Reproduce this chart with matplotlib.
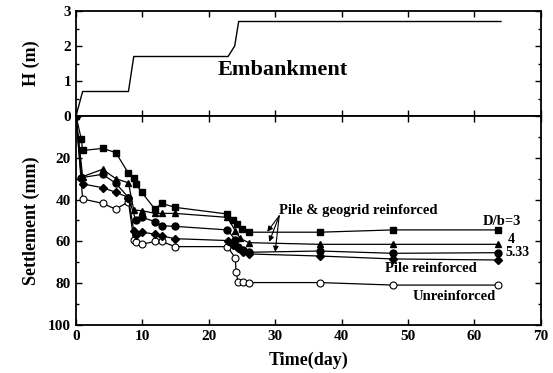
import numpy as np
import matplotlib.pyplot as plt
from matplotlib.ticker import MultipleLocator

plt.rcParams['font.family'] = 'Liberation Serif'
plt.rcParams['font.weight'] = 'bold'

# embankment fill height history
t_fill = [0, 1, 7.9, 8.7, 22.9, 23.9, 24.5, 64]
h_fill = [0, 0.7, 0.7, 1.7, 1.7, 2.0, 2.7, 2.7]

# settlement records (day, mm)
t_db3 = [0, 0.8, 1.0, 4, 6, 7.9, 8.7, 9.0, 9.9, 11.9, 12.9, 14.9, 22.8, 23.7, 24.3, 25.0, 26, 36.7, 47.8, 63.6]
s_db3 = [0, 11, 16.5, 15.5, 17.5, 27.4, 29.8, 32.5, 36.5, 44.6, 41.8, 43.7, 46.9, 49.8, 51.7, 54.2, 55.6, 55.6, 54.5, 54.5]

t_db4 = [0, 1, 4, 6, 7.9, 8.7, 9.9, 11.9, 12.9, 14.9, 22.8, 24.0, 24.7, 26, 36.7, 47.8, 63.6]
s_db4 = [0, 29, 25.5, 30, 32, 45, 45.3, 46.6, 46.6, 46.6, 48.5, 55, 58.5, 60.6, 61.4, 61.4, 61.4]

t_db533 = [0, 0.8, 4, 6, 7.9, 9.0, 9.9, 11.9, 12.9, 14.9, 22.8, 24.0, 24.4, 25.1, 26, 36.7, 47.8, 63.6]
s_db533 = [0, 29.5, 27.9, 32.2, 39, 49.8, 48.5, 50.5, 52.5, 52.8, 54.5, 59.3, 62.5, 64, 65.2, 64.6, 65.7, 65.4]

t_pile = [0, 1, 4, 6, 7.9, 8.7, 9.0, 9.9, 11.9, 12.9, 14.9, 22.9, 23.7, 24.4, 25.1, 26, 36.7, 47.8, 63.6]
s_pile = [0, 32.5, 34.3, 36.5, 39, 54.9, 57, 55.6, 56.5, 57.4, 58.7, 59.6, 61.7, 63.3, 64.9, 66, 67, 68.4, 68.9]

t_unr = [0, 1, 4, 6, 7.9, 8.7, 9.0, 9.9, 11.9, 12.9, 14.9, 22.8, 24.0, 24.1, 24.4, 25.1, 26, 36.7, 47.8, 63.6]
s_unr = [0, 39.7, 41.8, 44.6, 41, 59.3, 60.5, 61.4, 60, 60, 62.5, 62.5, 68, 74.5, 79.3, 79.3, 79.7, 79.7, 80.9, 80.9]

fig = plt.figure(figsize=(5.53, 3.73), dpi=100)
ax1 = fig.add_axes([0.1374, 0.689, 0.8406, 0.2815])
ax2 = fig.add_axes([0.1374, 0.1287, 0.8406, 0.5603])

for ax in (ax1, ax2):
    ax.set_xlim(0, 70)
    ax.xaxis.set_major_locator(MultipleLocator(10))
    ax.tick_params(which='both', direction='in', top=True, right=True, labelsize=11)
    ax.tick_params(which='major', length=4, width=1)
    ax.tick_params(which='minor', length=2.5, width=1)
    for sp in ax.spines.values():
        sp.set_linewidth(1.3)
    for lab in ax.get_xticklabels() + ax.get_yticklabels():
        lab.set_fontweight('bold')

# top: embankment height
ax1.plot(t_fill, h_fill, color='black', lw=1)
ax1.set_ylim(0, 3)
ax1.set_yticks([0, 1, 2, 3])
ax1.yaxis.set_minor_locator(MultipleLocator(0.5))
ax1.tick_params(labelbottom=False)
ax1.set_ylabel('H (m)', fontsize=13, fontweight='bold', labelpad=17)
ax1.text(21.4, 1.31, 'Embankment', fontsize=16, fontweight='bold', va='center')

# bottom: settlement
kw = dict(color='black', lw=0.9, markersize=5)
ax2.plot(t_unr, s_unr, marker='o', markerfacecolor='white', markeredgewidth=0.8, **kw)
ax2.plot(t_pile, s_pile, marker='D', markersize=4.5, color='black', lw=0.9)
ax2.plot(t_db533, s_db533, marker='o', **kw)
ax2.plot(t_db4, s_db4, marker='^', **kw)
ax2.plot(t_db3, s_db3, marker='s', markersize=4.5, color='black', lw=0.9)

ax2.set_ylim(100, 0)
ax2.set_yticks([0, 20, 40, 60, 80, 100])
ax2.set_yticklabels(['', '20', '40', '60', '80', '100'])
ax2.yaxis.set_minor_locator(MultipleLocator(10))
ax2.set_ylabel('Settlement (mm)', fontsize=13, fontweight='bold', labelpad=6)
ax2.set_xlabel('Time(day)', fontsize=13, fontweight='bold', labelpad=6)

ax2.text(30.5, 45.3, 'Pile & geogrid reinforced', fontsize=10.5, fontweight='bold', va='center')
for hx, hy in [(28.8, 55.4), (29.1, 60.2), (30.0, 65.0)]:
    ax2.annotate('', xy=(hx, hy), xytext=(30.6, 47.8),
                 arrowprops=dict(arrowstyle='-|>', color='black', lw=0.8,
                                 mutation_scale=8, shrinkA=0, shrinkB=0))
ax2.text(61.3, 50.5, 'D/b=3', fontsize=10.5, fontweight='bold', va='center')
ax2.text(65.0, 59.3, '4', fontsize=10, fontweight='bold', va='center')
ax2.text(64.6, 65.2, '5.33', fontsize=10, fontweight='bold', va='center')
ax2.text(46.5, 72.8, 'Pile reinforced', fontsize=10.5, fontweight='bold', va='center')
ax2.text(50.7, 86.5, 'Unreinforced', fontsize=10.5, fontweight='bold', va='center')

fig.savefig('out.png', dpi=100)
